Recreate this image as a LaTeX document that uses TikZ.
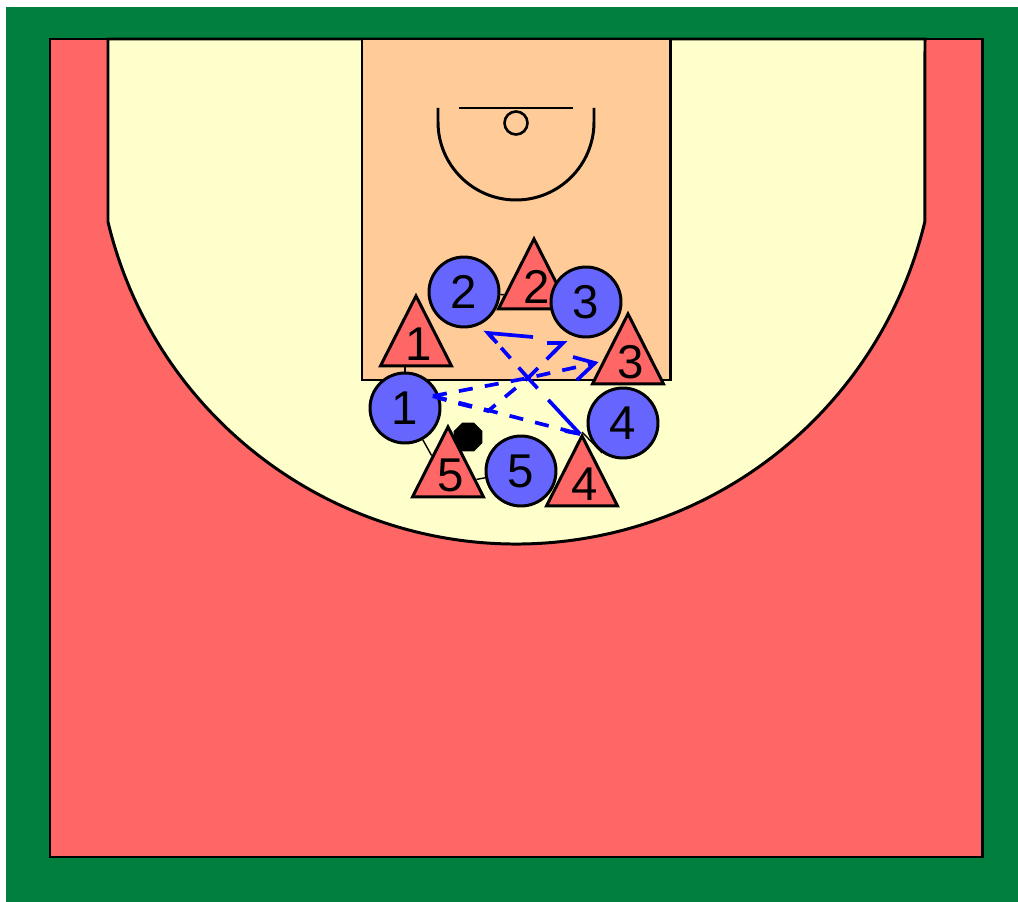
\documentclass[tikz,border=0pt]{standalone}
\usepackage{fontspec}
\setmainfont{Liberation Sans}
\usepackage{xcolor}
\usetikzlibrary{shapes.geometric}
\definecolor{bandgreen}{HTML}{007F3F}
\definecolor{courtred}{HTML}{FF6666}
\definecolor{arccream}{HTML}{FFFFCC}
\definecolor{lanepeach}{HTML}{FFCC99}
\definecolor{playerblue}{HTML}{6666FF}
\pgfdeclarelayer{court}
\pgfdeclarelayer{links}
\pgfsetlayers{court,links,main}
\newcommand{\mk}[1]{\raisebox{-4pt}[0pt][0pt]{\hspace{3pt}#1}}

\begin{document}
\begin{tikzpicture}[
    x=0.02cm, y=-0.02cm,
    line/.style={draw=black, line width=1.7pt},
    player/.style={circle, draw=black, line width=1.7pt, fill=playerblue,
                   minimum size=1.4cm, inner sep=0pt,
                   font=\fontsize{27}{27}\selectfont},
    defender/.style={isosceles triangle, isosceles triangle stretches,
                     shape border rotate=90, draw=black, line width=1.7pt,
                     fill=courtred, minimum height=1.4cm, minimum width=1.42cm,
                     inner sep=0pt, anchor=apex,
                     font=\fontsize{27}{27}\selectfont},
    link/.style={draw=black, line width=0.8pt},
    cut/.style={draw=blue, line width=2.1pt, dash pattern=on 8pt off 7pt},
    barb/.style={draw=blue, line width=2.1pt}
  ]
    \useasboundingbox (0,0) rectangle (1018,902);
    \begin{pgfonlayer}{court}
    \fill[bandgreen] (6,7) rectangle (1018,902);
    \fill[courtred] (50,39) rectangle (982,857);
    \path[fill=arccream, line] (108,39) -- (108,222)
      arc[start angle=166.5, end angle=13.5, radius=420] -- (925,39) -- cycle;
    \path[fill=lanepeach, line] (362,39) rectangle (670,380);
    \draw[line] (50,39) rectangle (982,857);
    \draw[line] (459,108) -- (573,108);
    \draw[line] (438,108) -- (438,122)
      arc[start angle=180, end angle=0, radius=78] -- (594,108);
    \node[circle, draw=black, line width=1.5pt, minimum size=0.46cm, inner sep=0pt] (ring) at (516,123) {};
    \end{pgfonlayer}

    % defenders and attackers
    \node[defender] (d2) at (534,235) {\mk{2}};
    \node[player] (p2) at (464,292) {2};
    \node[player] (p3) at (586,302) {3};
    \node[defender] (d1) at (416,292) {\mk{1}};
    \node[defender] (d3) at (628,310) {\mk{3}};
    \node[player] (p1) at (405,408) {1};
    \node[player] (p4) at (623,423) {4};
    \node[player] (p5) at (521,471) {5};
    \node[defender] (d4) at (582,432) {\mk{4}};
    \node[regular polygon, regular polygon sides=8, fill=black, minimum size=0.62cm, inner sep=0pt] (ball) at (468,437) {};
    \node[defender] (d5) at (448,423) {\mk{5}};

    \begin{pgfonlayer}{links}
    \draw[link] (p1)--(p1 |- d1); \draw[link] (p1)--(d5);
    \draw[link] (p2)--(d2); \draw[link] (p3)--(d2);
    \draw[link] (d4.apex)--(p4.235);
    \draw[link] (p5)--(d5);
    \end{pgfonlayer}

    % passing lines
    \coordinate (start) at (433,396);
    \coordinate (cross) at (528,378);
    \coordinate (tipa)  at (563,343);
    \coordinate (baraa) at (547,343);
    \coordinate (tipb)  at (595,363);
    \coordinate (barba) at (573,357);
    \coordinate (barbb) at (577,380);
    \coordinate (tipc)  at (488,333);
    \coordinate (barac) at (533,337);
    \coordinate (tipd)  at (580,434);
    \coordinate (dipa)  at (452,402);
    \coordinate (dipb)  at (488,411);
    \draw[cut] (start) -- (dipa) -- (dipb) -- (cross);
    \draw[cut] (cross) -- (tipa);
    \draw[barb] (baraa) -- (tipa) -- ++(-10,10);
    \draw[cut] (start) -- (cross) -- (tipb);
    \draw[barb] (barba) -- (tipb) -- (barbb);
    \draw[cut] (cross) -- (tipc);
    \draw[barb] (barac) -- (tipc) -- ++(9,10);
    \draw[cut, dash pattern=on 8pt off 9pt on 40pt off 1pt] (cross) -- (tipd);
    \draw[cut] (start) -- (tipd);
    \draw[barb] (tipd) -- ++(-15,-3);
  \end{tikzpicture}
\end{document}
